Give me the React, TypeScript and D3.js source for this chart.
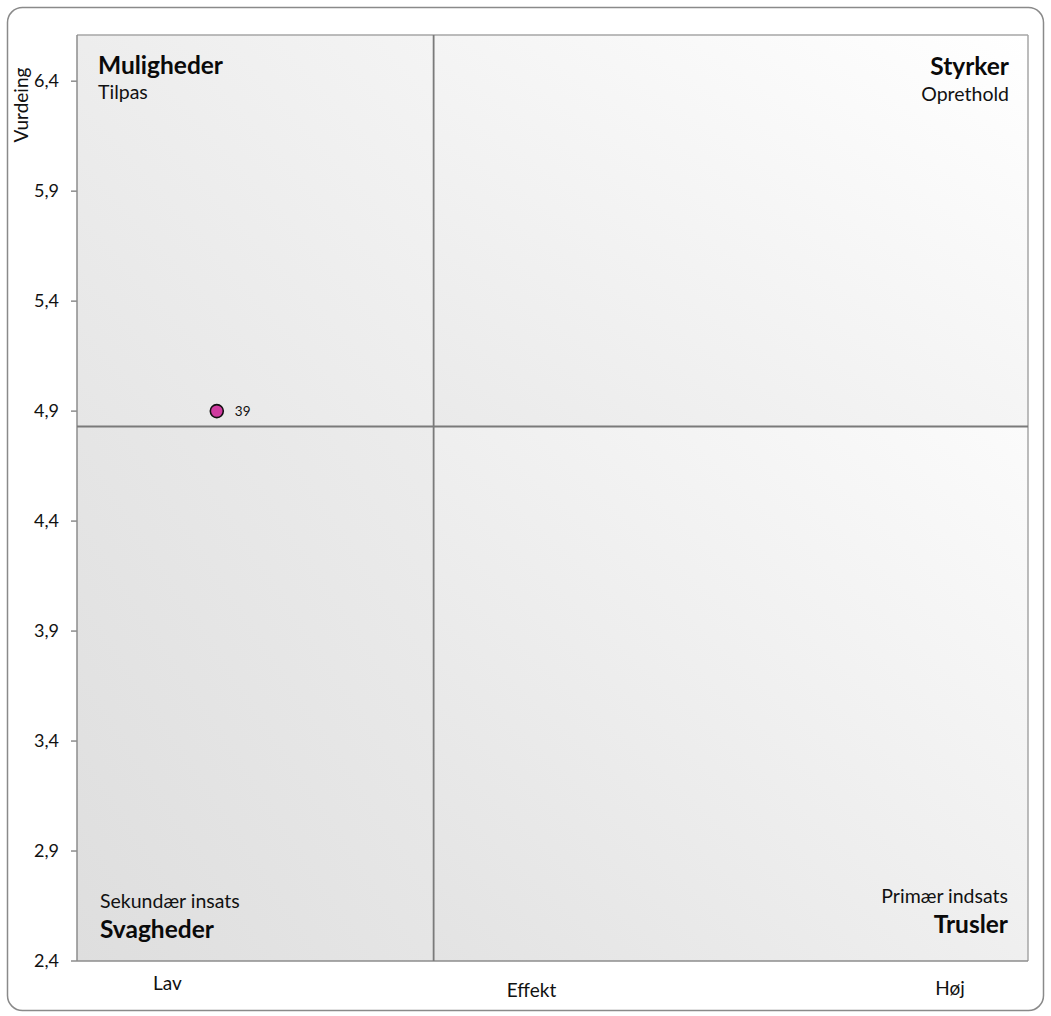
import React from "react";
import * as d3 from "d3";

// ---- data ----
const yTicks = [2.4, 2.9, 3.4, 3.9, 4.4, 4.9, 5.4, 5.9, 6.4];
const yDomain = [2.4, 6.61];
const xDomain = [0, 1];
const pointLabels = ["39"];
const pointX = [0.147];
const pointY = [4.9];
const dividerX = 0.375;
const dividerY = 4.83;
const xCategoryLabels = ["Lav", "Høj"];
const xCategoryPos = [0.095, 0.918];
const xTitle = "Effekt";
const yTitle = "Vurdeing";
const quadrantTitles = ["Muligheder", "Styrker", "Svagheder", "Trusler"];
const quadrantSubtitles = ["Tilpas", "Oprethold", "Sekundær insats", "Primær indsats"];

const W = 1051;
const H = 1016;
const FONT = "Lato, 'Open Sans', sans-serif";

export default function App() {
  const left = 77, right = 1028, top = 35, bottom = 961;
  const x = d3.scaleLinear().domain(xDomain).range([left, right]);
  const y = d3.scaleLinear().domain(yDomain).range([bottom, top]);
  const fmt = (v: number) => d3.format(".1f")(v).replace(".", ",");
  const dx = x(dividerX);
  const dy = y(dividerY);

  const quads = [
    { id: "gUL", x0: left, y0: top, x1: dx, y1: dy, c0: "#e6e6e6", c1: "#f4f4f4" },
    { id: "gUR", x0: dx, y0: top, x1: right, y1: dy, c0: "#eaeaea", c1: "#ffffff" },
    { id: "gLL", x0: left, y0: dy, x1: dx, y1: bottom, c0: "#dedede", c1: "#ececec" },
    { id: "gLR", x0: dx, y0: dy, x1: right, y1: bottom, c0: "#e3e3e3", c1: "#fbfbfb" },
  ];

  const sub = 19.5;
  const axisFs = 19;

  return (
    <svg width={W} height={H} style={{ position: "absolute", left: 0, top: 0, fontFamily: FONT }}>
      <defs>
        {quads.map((q) => (
          <linearGradient key={q.id} id={q.id} x1="0" y1="1" x2="1" y2="0">
            <stop offset="0" stopColor={q.c0} />
            <stop offset="1" stopColor={q.c1} />
          </linearGradient>
        ))}
      </defs>
      <rect x={0} y={0} width={W} height={H} fill="#ffffff" />
      <rect x={7.5} y={7.5} width={1036} height={1003} rx={15} ry={15} fill="#ffffff" stroke="#8a8a8a" strokeWidth={1.5} />

      {quads.map((q) => (
        <rect key={q.id} x={q.x0} y={q.y0} width={q.x1 - q.x0} height={q.y1 - q.y0} fill={`url(#${q.id})`} />
      ))}

      {/* plot frame */}
      <line x1={left} x2={right} y1={top} y2={top} stroke="#a6a6a6" strokeWidth={1.5} />
      <line x1={right} x2={right} y1={top} y2={bottom} stroke="#a6a6a6" strokeWidth={1.5} />
      <line x1={left} x2={left} y1={top} y2={bottom} stroke="#8c8c8c" strokeWidth={1.5} />
      <line x1={left} x2={right} y1={bottom} y2={bottom} stroke="#8c8c8c" strokeWidth={1.5} />

      {/* dividers */}
      <line x1={dx} x2={dx} y1={top} y2={bottom} stroke="#7a7a7a" strokeWidth={1.8} />
      <line x1={left} x2={right} y1={dy} y2={dy} stroke="#7a7a7a" strokeWidth={1.8} />

      {/* y ticks */}
      {yTicks.map((t) => (
        <g key={t}>
          <line x1={left - 6} x2={left} y1={y(t)} y2={y(t)} stroke="#8c8c8c" strokeWidth={1.5} />
          <text x={left - 18} y={y(t)} dy="0.35em" textAnchor="end" fontSize={18} fill="#111">
            {fmt(t)}
          </text>
        </g>
      ))}

      {/* y title */}
      <text transform={`translate(28,105) rotate(-90)`} textAnchor="middle" fontSize={axisFs} fill="#111">
        {yTitle}
      </text>

      {/* x labels */}
      {xCategoryLabels.map((l, i) => (
        <text key={l} x={x(xCategoryPos[i])} y={i === 0 ? 990 : 995} textAnchor="middle" fontSize={axisFs} fill="#111">
          {l}
        </text>
      ))}
      <text x={(left + right) / 2 - 21} y={997} textAnchor="middle" fontSize={axisFs} fill="#111">
        {xTitle}
      </text>

      {/* quadrant labels */}
      <text x={left + 21} y={74} fontSize={24.5} fontWeight="bold" fill="#0a0a0a">{quadrantTitles[0]}</text>
      <text x={left + 21} y={99} fontSize={sub} fill="#111">{quadrantSubtitles[0]}</text>
      <text x={right - 19} y={75} textAnchor="end" fontSize={24.5} fontWeight="bold" fill="#0a0a0a">{quadrantTitles[1]}</text>
      <text x={right - 19} y={101} textAnchor="end" fontSize={sub} fill="#111">{quadrantSubtitles[1]}</text>
      <text x={left + 23} y={908} fontSize={sub} fill="#111">{quadrantSubtitles[2]}</text>
      <text x={left + 23} y={938} fontSize={24.5} fontWeight="bold" fill="#0a0a0a">{quadrantTitles[2]}</text>
      <text x={right - 20} y={903} textAnchor="end" fontSize={sub} fill="#111">{quadrantSubtitles[3]}</text>
      <text x={right - 20} y={933} textAnchor="end" fontSize={24.5} fontWeight="bold" fill="#0a0a0a">{quadrantTitles[3]}</text>

      {/* points */}
      {pointLabels.map((l, i) => (
        <g key={l}>
          <circle cx={x(pointX[i])} cy={y(pointY[i])} r={6.5} fill="#d03ba0" stroke="#111" strokeWidth={1.6} />
          <text x={x(pointX[i]) + 18} y={y(pointY[i])} dy="0.37em" fontSize={13.5} fill="#111">{l}</text>
        </g>
      ))}
    </svg>
  );
}
